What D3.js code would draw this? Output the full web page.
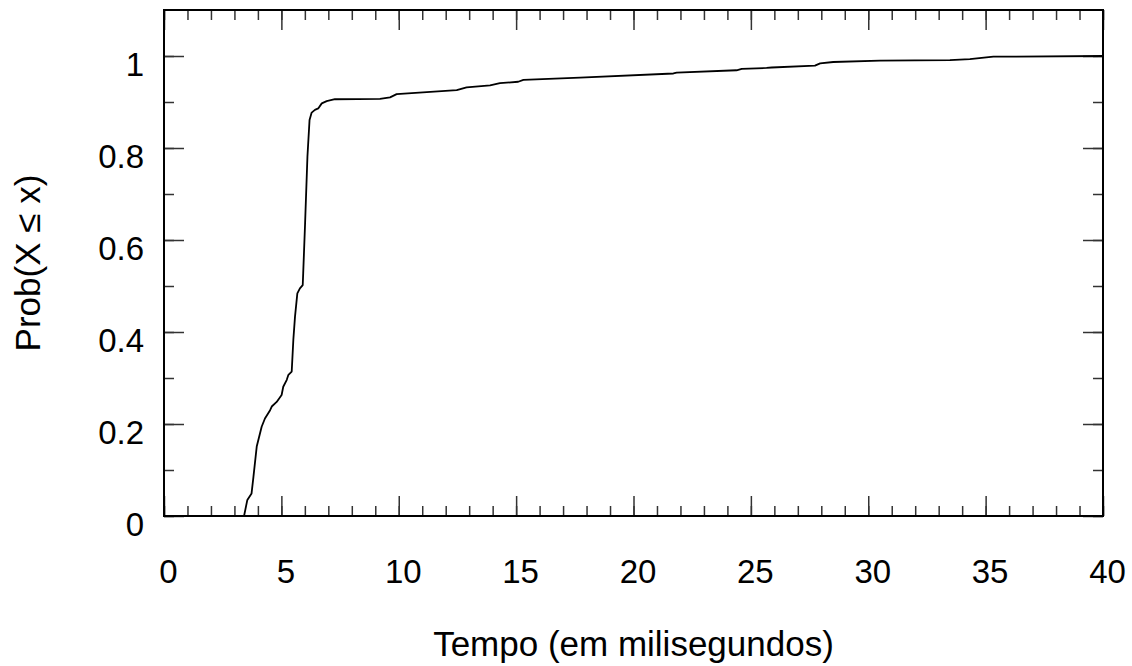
<!DOCTYPE html>
<html>
<head>
<meta charset="utf-8">
<script src="https://cdn.jsdelivr.net/npm/d3@7"></script>
<style>
  body { margin: 0; background: #fff; }
  text { font-family: "Liberation Sans", Arial, Helvetica, sans-serif; fill: #000; }
</style>
</head>
<body>
<div id="chart"></div>
<script>
// CDF points: tempo (ms) and cumulative probability
var tempo = [3.41, 3.55, 3.73, 3.81, 3.95, 4.16, 4.30, 4.52, 4.59, 4.80, 5.01, 5.08, 5.23, 5.30, 5.44,
  5.51, 5.58, 5.68, 5.79, 5.91, 5.93, 6.01, 6.11, 6.20, 6.29, 6.43, 6.57, 6.72, 6.93, 7.28, 9.20,
  9.63, 9.91, 12.47, 12.89, 13.89, 14.31, 15.09, 15.31, 17.72, 21.70, 21.84, 24.39, 24.61, 25.67,
  25.89, 27.73, 27.95, 28.51, 30.5, 33.48, 34.33, 35.33, 40];
var prob = [0, 0.035, 0.049, 0.085, 0.151, 0.194, 0.212, 0.230, 0.238, 0.248, 0.263, 0.281, 0.296, 0.307, 0.314,
  0.383, 0.433, 0.484, 0.495, 0.502, 0.528, 0.636, 0.781, 0.861, 0.877, 0.883, 0.886, 0.897, 0.902, 0.906, 0.907,
  0.910, 0.917, 0.926, 0.932, 0.936, 0.941, 0.944, 0.948, 0.953, 0.962, 0.964, 0.969, 0.972, 0.974,
  0.975, 0.979, 0.984, 0.987, 0.990, 0.991, 0.993, 0.9985, 1.0];

var xMajor = [0, 5, 10, 15, 20, 25, 30, 35, 40];
var yMajor = [0, 0.2, 0.4, 0.6, 0.8, 1];
var xMinor = d3.range(0, 41, 1);
var yMinor = [0, 0.1, 0.2, 0.3, 0.4, 0.5, 0.6, 0.7, 0.8, 0.9, 1.0];

var W = 1132, H = 666;
var margin = { top: 10, right: 29, bottom: 150, left: 164 };
var width = W - margin.left - margin.right,
    height = H - margin.top - margin.bottom;

var data = tempo.map(function(t, i) { return { x: t, y: prob[i] }; });

var svg = d3.select("#chart").append("svg")
    .attr("width", W)
    .attr("height", H)
    .append("g")
    .attr("transform", "translate(" + margin.left + "," + margin.top + ")");

var x = d3.scaleLinear().domain([0, 40]).range([0, width]);
var y = d3.scaleLinear().domain([0, 1.1]).range([height, 0]);

function styleTicks(g) {
  g.select(".domain").remove();
  g.selectAll(".tick line").attr("stroke", "#333").attr("stroke-width", 1.5);
}

// minor ticks, all four sides
svg.append("g").attr("transform", "translate(0," + height + ")")
  .call(d3.axisBottom(x).tickValues(xMinor).tickSize(-10).tickFormat("")).call(styleTicks);
svg.append("g")
  .call(d3.axisTop(x).tickValues(xMinor).tickSize(-10).tickFormat("")).call(styleTicks);
svg.append("g")
  .call(d3.axisLeft(y).tickValues(yMinor).tickSize(-10).tickFormat("")).call(styleTicks);
svg.append("g").attr("transform", "translate(" + width + ",0)")
  .call(d3.axisRight(y).tickValues(yMinor).tickSize(-10).tickFormat("")).call(styleTicks);

// major ticks with labels
var xAxis = svg.append("g").attr("transform", "translate(0," + height + ")")
  .call(d3.axisBottom(x).tickValues(xMajor).tickSize(-20).tickFormat(d3.format("d"))).call(styleTicks);
xAxis.selectAll("text")
  .attr("y", 67).attr("dy", null).attr("x", 4)
  .style("font-size", "33px");

svg.append("g")
  .call(d3.axisTop(x).tickValues(xMajor).tickSize(-20).tickFormat("")).call(styleTicks);

var yAxis = svg.append("g")
  .call(d3.axisLeft(y).tickValues(yMajor).tickSize(-20).tickFormat(function(d) { return d3.format("~g")(d); }))
  .call(styleTicks);
yAxis.selectAll("text")
  .attr("x", -20).attr("dy", null).attr("y", 19)
  .style("font-size", "33px");

svg.append("g").attr("transform", "translate(" + width + ",0)")
  .call(d3.axisRight(y).tickValues(yMajor).tickSize(-20).tickFormat("")).call(styleTicks);

// frame
svg.append("rect")
  .attr("width", width).attr("height", height)
  .attr("fill", "none").attr("stroke", "#000").attr("stroke-width", 2);

// CDF line
var line = d3.line()
  .x(function(d) { return x(d.x); })
  .y(function(d) { return y(d.y); });

svg.append("path")
  .datum(data)
  .attr("fill", "none")
  .attr("stroke", "#000")
  .attr("stroke-width", 1.8)
  .attr("stroke-linejoin", "round")
  .attr("d", line);

// axis titles
svg.append("text")
  .attr("x", width / 2)
  .attr("y", 646)
  .style("text-anchor", "middle")
  .style("font-size", "35px")
  .text("Tempo (em milisegundos)");

svg.append("text")
  .attr("transform", "rotate(-90)")
  .attr("x", -height / 2)
  .attr("y", 40 - margin.left)
  .style("text-anchor", "middle")
  .style("font-size", "35px")
  .text("Prob(X ≤ x)");
</script>
</body>
</html>
